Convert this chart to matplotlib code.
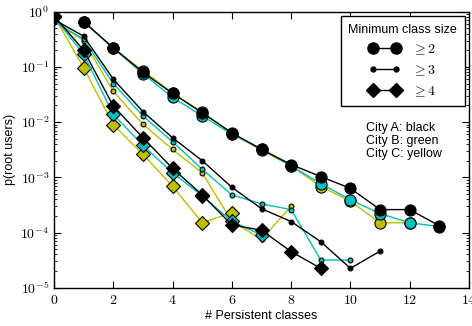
import numpy as np
import matplotlib
matplotlib.use("Agg")
import matplotlib.pyplot as plt
from matplotlib.lines import Line2D
from matplotlib.ticker import LogLocator, NullFormatter, FixedLocator

plt.rcParams['mathtext.fontset'] = 'cm'
plt.rcParams['font.family'] = ['Liberation Sans', 'DejaVu Sans']
plt.rcParams['font.size'] = 9

# ---- data ----
# min class size >= 2 (big circles)
x2_A = [1, 2, 3, 4, 5, 6, 7, 8, 9, 10, 11, 12, 13]
y2_A = [0.66, 0.22, 0.08, 0.033, 0.0148, 0.0064, 0.0032, 0.0017, 0.00103, 0.00063, 0.00026, 0.00026, 0.000132]
x2_B = [1, 2, 3, 4, 5, 6, 7, 8, 9, 10, 11, 12, 13]
y2_B = [0.66, 0.22, 0.075, 0.028, 0.013, 0.0060, 0.0033, 0.0016, 0.00077, 0.00039, 0.00022, 0.00015, 0.000128]
x2_C = [1, 2, 3, 4, 5, 6, 7, 8, 9, 10, 11, 12]
y2_C = [0.66, 0.22, 0.085, 0.034, 0.0150, 0.0062, 0.0031, 0.0016, 0.00068, 0.00037, 0.00015, 0.00015]

# min class size >= 3 (small dots)
x3_A = [0, 1, 2, 3, 4, 5, 6, 7, 8, 9, 10, 11]
y3_A = [0.72, 0.36, 0.06, 0.0155, 0.0052, 0.0020, 0.00066, 0.00027, 0.000158, 0.000068, 0.0000224, 0.000046]
x3_B = [0, 1, 2, 3, 4, 5, 6, 7, 8, 9, 10]
y3_B = [0.66, 0.32, 0.05, 0.0129, 0.0044, 0.0014, 0.00048, 0.00033, 0.00026, 0.0000317, 0.0000317]
x3_C = [0, 1, 2, 3, 4, 5, 6, 7, 8]
y3_C = [0.66, 0.30, 0.036, 0.0091, 0.0032, 0.0012, 0.00016, 0.000075, 0.0003]

# min class size >= 4 (diamonds)
x4_A = [0, 1, 2, 3, 4, 5, 6, 7, 8, 9]
y4_A = [0.84, 0.20, 0.0196, 0.0052, 0.00145, 0.00048, 0.000137, 0.00011, 0.000045, 0.0000224]
x4_B = [0, 1, 2, 3, 4, 5, 6, 7]
y4_B = [0.80, 0.17, 0.0138, 0.0038, 0.00121, 0.00046, 0.00016, 0.00009]
x4_C = [0, 1, 2, 3, 4, 5, 6]
y4_C = [0.84, 0.097, 0.0089, 0.0026, 0.00069, 0.00015, 0.00023]

x_ticks = [0, 2, 4, 6, 8, 10, 12, 14]
y_ticks = [1e-5, 1e-4, 1e-3, 1e-2, 1e-1, 1e0]
y_tick_labels = [r'$10^{-5}$', r'$10^{-4}$', r'$10^{-3}$', r'$10^{-2}$', r'$10^{-1}$', r'$10^{0}$']
legend_labels = [r'$\geq 2$', r'$\geq 3$', r'$\geq 4$']
legend_title = 'Minimum class size'
city_note = 'City A: black\nCity B: green\nCity C: yellow'

colors = {'A': 'k', 'B': 'c', 'C': 'y'}

fig = plt.figure(figsize=(4.72, 3.26), dpi=100)
ax = fig.add_axes([54/472, 1 - 287.7/326, (469-54)/472, (287.7-11.7)/326])

style = {
    2: dict(marker='o', ms=8),
    3: dict(marker='o', ms=3.5),
    4: dict(marker='D', ms=7),
}
series = {
    'C': [(x2_C, y2_C, 2), (x3_C, y3_C, 3), (x4_C, y4_C, 4)],
    'B': [(x2_B, y2_B, 2), (x3_B, y3_B, 3), (x4_B, y4_B, 4)],
    'A': [(x2_A, y2_A, 2), (x3_A, y3_A, 3), (x4_A, y4_A, 4)],
}
for city in ['C', 'B', 'A']:
    for xs, ys, s in series[city]:
        ax.plot(xs, ys, color=colors[city], lw=1, marker=style[s]['marker'],
                ms=style[s]['ms'], mfc=colors[city], mec='k', mew=0.8)

ax.set_yscale('log')
ax.set_xlim(0, 14)
ax.set_ylim(1e-5, 1)
ax.xaxis.set_major_locator(FixedLocator(x_ticks))
ax.set_xticklabels([r'$%d$' % t for t in x_ticks])
ax.set_yticks(y_ticks)
ax.set_yticklabels(y_tick_labels)
ax.yaxis.set_minor_locator(LogLocator(base=10, subs=np.arange(2, 10), numticks=20))
ax.yaxis.set_minor_formatter(NullFormatter())
ax.tick_params(which='both', direction='in', top=True, right=True, labelsize=10)
ax.tick_params(which='major', length=5, width=0.8)
ax.tick_params(which='minor', length=2.5, width=0.6)
ax.tick_params(axis='x', pad=4)
for sp in ax.spines.values():
    sp.set_linewidth(1)

ax.set_xlabel('# Persistent classes', fontsize=9, labelpad=2)
ax.set_ylabel('p(root users)', fontsize=9, labelpad=3)

handles = [
    Line2D([], [], color='k', lw=1, marker='o', ms=8, mfc='k', mec='k'),
    Line2D([], [], color='k', lw=1, marker='o', ms=3.5, mfc='k', mec='k'),
    Line2D([], [], color='k', lw=1, marker='D', ms=7, mfc='k', mec='k'),
]
leg = ax.legend(handles, legend_labels, title=legend_title, loc='upper right',
                numpoints=2, fancybox=False, frameon=True, fontsize=10,
                title_fontsize=9, handlelength=2.2, borderaxespad=0.3,
                labelspacing=0.45, handletextpad=0.9, borderpad=0.55)
leg.get_frame().set_edgecolor('k')
leg.get_frame().set_linewidth(1)
leg.get_frame().set_alpha(1)

ax.text(0.752, 0.60, city_note, transform=ax.transAxes, ha='left', va='top',
        fontsize=9, linespacing=1.08)

fig.savefig('out.png', dpi=100)
